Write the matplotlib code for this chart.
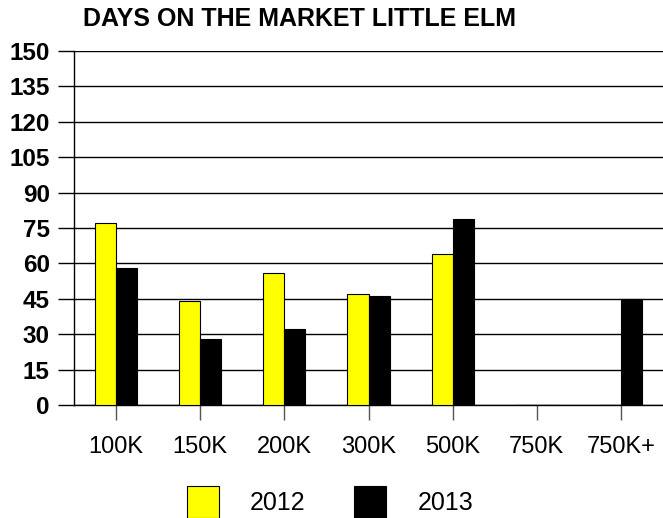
import numpy as np
import matplotlib
matplotlib.use("Agg")
import matplotlib.pyplot as plt

categories = ["100K", "150K", "200K", "300K", "500K", "750K", "750K+"]
days_2012 = [77, 44, 56, 47, 64, 0, 0]
days_2013 = [58, 28, 32, 46, 79, 0, 45]
y_ticks = list(range(0, 151, 15))

plt.rcParams['font.family'] = ['Liberation Sans', 'DejaVu Sans']

fig = plt.figure(figsize=(6.63, 5.18), dpi=100)
ax = fig.add_axes([74 / 663, 1 - 405 / 518, 1 - 74 / 663, (405 - 51) / 518])

x = np.arange(len(categories))
w = 0.25
ax.bar(x - w / 2, days_2012, w, color="#ffff00", edgecolor="black", linewidth=0.8, label="2012", zorder=3)
ax.bar(x + w / 2, days_2013, w, color="black", edgecolor="black", linewidth=0.8, label="2013", zorder=3)

ax.set_xlim(-0.5, len(categories) - 0.5)
ax.set_ylim(0, 150)
ax.set_yticks(y_ticks)
ax.set_yticklabels([str(t) for t in y_ticks], fontsize=17.5, fontweight="bold")
ax.set_xticks(x)
ax.set_xticklabels(categories, fontsize=17)
ax.tick_params(axis="x", length=11, width=1, color="#555555", pad=11)
ax.tick_params(axis="y", length=11.5, width=1, pad=6)
ax.yaxis.grid(True, color="black", linewidth=1)
ax.set_axisbelow(True)
for s in ["top", "right"]:
    ax.spines[s].set_visible(False)
ax.spines["left"].set_linewidth(1)
ax.spines["bottom"].set_linewidth(1)

fig.text(83 / 663, 1 - 19 / 518, "DAYS ON THE MARKET LITTLE ELM", fontsize=18,
         fontweight="bold", va="center", ha="left")

fig.legend(loc="center", bbox_to_anchor=(330 / 663, 1 - 502 / 518), ncol=2, frameon=False,
           fontsize=18, handlelength=1.28, handleheight=1.6, handletextpad=1.24,
           columnspacing=1.96)

fig.savefig("out.png", dpi=100)
